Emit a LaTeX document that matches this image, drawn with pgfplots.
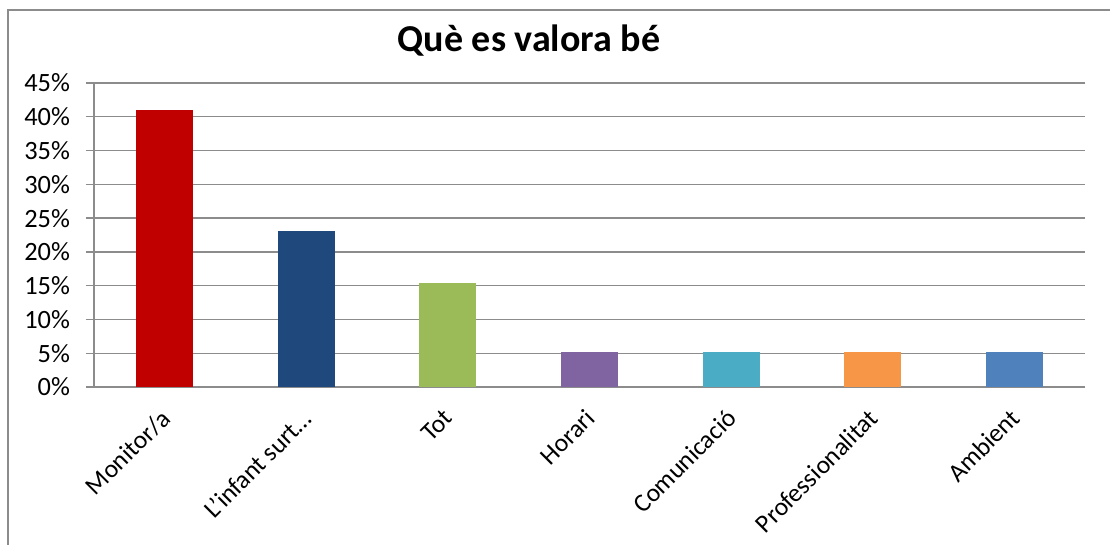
\documentclass[border=0pt]{standalone}
\usepackage{pgfplots}
\pgfplotsset{compat=1.18}
\usepackage{fontspec}
\setmainfont{Carlito}
\definecolor{c1}{HTML}{C00000}
\definecolor{c2}{HTML}{1F497D}
\definecolor{c3}{HTML}{9BBB59}
\definecolor{c4}{HTML}{8064A2}
\definecolor{c5}{HTML}{4BACC6}
\definecolor{c6}{HTML}{F79646}
\definecolor{c7}{HTML}{4F81BD}
\definecolor{gridgray}{HTML}{8C8C8C}
\begin{document}
\begin{tikzpicture}
\useasboundingbox (-47pt,-79pt) rectangle (508pt,193.5pt);
\draw[gridgray, line width=0.9pt] (-43pt,-79pt) -- (-43pt,188.5pt) -- (508pt,188.5pt);
\begin{axis}[
  at={(0,0)}, anchor=south west,
  scale only axis,
  width=495.5pt, height=152pt,
  xmin=-0.5, xmax=6.5,
  ymin=0, ymax=45,
  ytick={0,5,...,45},
  yticklabel={\pgfmathprintnumber{\tick}\%},
  xtick={0,1,2,3,4,5,6},
  xticklabels={Monitor/a,L'infant surt\ldots,Tot,Horari,Comunicació,Professionalitat,Ambient},
  minor xtick={-0.5,0.5,...,6.5},
  /pgf/number format/assume math mode=true,
  ymajorgrids,
  grid style={gridgray, line width=0.7pt},
  axis x line*=bottom,
  axis y line*=left,
  axis line style={gridgray, line width=0.7pt},
  tick align=outside,
  major tick length=4pt,
  minor tick length=3.5pt,
  xtick style={draw=none},
  minor tick style={gridgray, line width=0.7pt, draw=gridgray},
  ytick style={gridgray, line width=0.7pt},
  tick label style={font=\fontsize{13.2}{15}\selectfont, text=black},
  yticklabel style={xshift=-4.5pt},
  xticklabel style={rotate=45, anchor=north east, yshift=1pt, xshift=-3pt, font=\fontsize{12.8}{15}\selectfont},
  ybar, bar width=28.5pt,
  every axis plot/.append style={bar shift=0pt, draw=none},
]
\addplot[fill=c1] coordinates {(0,41.03)};
\addplot[fill=c2] coordinates {(1,23.08)};
\addplot[fill=c3] coordinates {(2,15.38)};
\addplot[fill=c4] coordinates {(3,5.13)};
\addplot[fill=c5] coordinates {(4,5.13)};
\addplot[fill=c6] coordinates {(5,5.13)};
\addplot[fill=c7] coordinates {(6,5.13)};
\end{axis}
\node[anchor=base, font=\fontsize{19}{23}\selectfont\bfseries] at (217.5pt,167.5pt) {Què es valora bé};
\end{tikzpicture}
\end{document}
